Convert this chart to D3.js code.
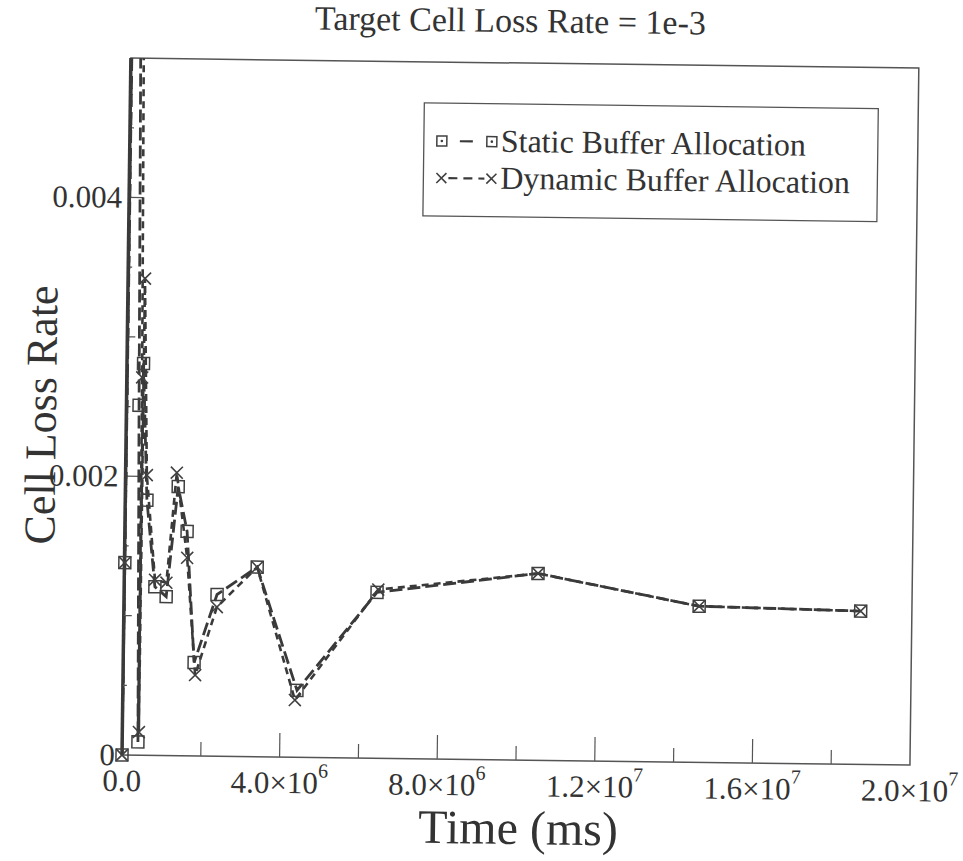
<!DOCTYPE html>
<html>
<head>
<meta charset="utf-8">
<script src="https://cdn.jsdelivr.net/npm/d3@7"></script>
<style>
  html, body { margin: 0; padding: 0; background: #fff; }
  svg { display: block; }
  text { font-family: "Liberation Serif", "Times New Roman", serif; fill: #333; }
</style>
</head>
<body>
<script>
// ************************************************************************************
// DATA  (time in ms, cell loss rate)
// ************************************************************************************
var staticTime  = [0, 0.01e6, 0.05e6, 0.32e6, 0.40e6, 0.42e6, 0.55e6, 0.78e6, 1.07e6, 1.34e6, 1.58e6, 1.80e6, 2.36e6, 3.37e6, 4.42e6, 6.42e6, 10.5e6, 14.6e6, 18.7e6]
var staticRate  = [0, 0.00138, 0.012, 0.00251, 0.000095, 0.00281, 0.00183, 0.00121, 0.00114, 0.00193, 0.00161, 0.00067, 0.00116, 0.00136, 0.00048, 0.00119, 0.00134, 0.00112, 0.00110]

var dynamicTime = [0, 0.01e6, 0.05e6, 0.39e6, 0.42e6, 0.43e6, 0.54e6, 0.78e6, 1.07e6, 1.30e6, 1.59e6, 1.83e6, 2.36e6, 3.37e6, 4.37e6, 6.45e6, 10.5e6, 14.6e6, 18.7e6]
var dynamicRate = [0, 0.00138, 0.015, 0.00271, 0.000166, 0.00342, 0.00201, 0.00126, 0.00124, 0.00203, 0.00142, 0.00058, 0.00107, 0.00136, 0.00041, 0.00121, 0.00134, 0.00112, 0.00110]

var seriesNames = ["Static Buffer Allocation", "Dynamic Buffer Allocation"]

var xTickValues = [0, 4e6, 8e6, 1.2e7, 1.6e7, 2e7]
var xTickLabels = [["0.0", ""], ["4.0×10", "6"], ["8.0×10", "6"], ["1.2×10", "7"], ["1.6×10", "7"], ["2.0×10", "7"]]
var yTickValues = [0, 0.002, 0.004]
var yTickLabels = ["0", "0.002", "0.004"]

// ************************************************************************************
// LAYOUT
// ************************************************************************************
var width = 963, height = 861
var plotL = 122, plotR = 910, plotB = 755, plotT = 58
var ink = "#3a3a3a"

var x = d3.scaleLinear().domain([0, 2e7]).range([plotL, plotR])
var y = d3.scaleLinear().domain([0, 0.005]).range([plotB, plotT])

var svg = d3.select("body").append("svg").attr("width", width).attr("height", height)

// the scan is tilted a little clockwise
var g = svg.append("g").attr("transform", "rotate(0.73," + plotL + "," + plotB + ")")

g.append("defs").append("clipPath").attr("id", "plotclip")
  .append("rect")
    .attr("x", plotL).attr("y", plotT)
    .attr("width", plotR - plotL).attr("height", plotB - plotT)

// ************************************************************************************
// FRAME & TICKS
// ************************************************************************************
g.append("rect")
  .attr("x", plotL).attr("y", plotT)
  .attr("width", plotR - plotL).attr("height", plotB - plotT)
  .attr("fill", "none").attr("stroke", "#555").attr("stroke-width", 1.5)

g.append("line")
  .attr("x1", plotL).attr("x2", plotL).attr("y1", plotT).attr("y2", plotB)
  .attr("stroke", ink).attr("stroke-width", 3.5)

g.selectAll(".xtick").data(d3.range(1, 10).map(function (i) { return i * 2e6 }))
  .enter().append("line")
    .attr("x1", function (d) { return x(d) }).attr("x2", function (d) { return x(d) })
    .attr("y1", plotB)
    .attr("y2", function (d, i) { return plotB - (i % 2 == 1 ? 24 : 14) })
    .attr("stroke", "#555").attr("stroke-width", 1.2)

g.selectAll(".ytick").data(d3.range(1, 10).map(function (i) { return i * 0.0005 }))
  .enter().append("line")
    .attr("y1", function (d) { return y(d) }).attr("y2", function (d) { return y(d) })
    .attr("x1", plotL)
    .attr("x2", function (d, i) { var k = i + 1; return plotL + (k % 4 == 0 ? 14 : (k % 2 == 0 ? 8 : 4)) })
    .attr("stroke", "#555").attr("stroke-width", 1.2)

g.selectAll(".ylab").data(yTickValues)
  .enter().append("text")
    .attr("x", plotL - 7).attr("y", function (d) { return y(d) })
    .attr("dy", "0.33em")
    .attr("text-anchor", "end")
    .attr("font-size", 31)
    .text(function (d, i) { return yTickLabels[i] })

var xl = g.selectAll(".xlab").data(xTickValues)
  .enter().append("text")
    .attr("x", function (d) { return x(d) }).attr("y", plotB + 36)
    .attr("text-anchor", "middle")
    .attr("font-size", 31)
xl.append("tspan").text(function (d, i) { return xTickLabels[i][0] })
xl.append("tspan").attr("font-size", 20).attr("dy", -16)
  .text(function (d, i) { return xTickLabels[i][1] })

// ************************************************************************************
// TITLES
// ************************************************************************************
g.append("text").attr("x", 501).attr("y", 27).attr("text-anchor", "middle")
  .attr("font-size", 34).text("Target Cell Loss Rate = 1e-3")

g.append("text").attr("x", 519).attr("y", 839).attr("text-anchor", "middle")
  .attr("font-size", 48).text("Time (ms)")

g.append("text").attr("transform", "translate(37,416) rotate(-90)")
  .attr("dy", "0.33em").attr("text-anchor", "middle")
  .attr("font-size", 44).text("Cell Loss Rate")

// ************************************************************************************
// SERIES
// ************************************************************************************
var staticData  = staticTime.map(function (t, i) { return [t, staticRate[i]] })
var dynamicData = dynamicTime.map(function (t, i) { return [t, dynamicRate[i]] })
var inside = function (d) { return d[1] <= y.domain()[1] }

var line = d3.line().x(function (d) { return x(d[0]) }).y(function (d) { return y(d[1]) })

var lines = g.append("g").attr("clip-path", "url(#plotclip)")
lines.append("path").datum(staticData).attr("d", line)
  .attr("fill", "none").attr("stroke", ink).attr("stroke-width", 2.8)
  .attr("stroke-dasharray", "13,5")
lines.append("path").datum(dynamicData).attr("d", line)
  .attr("fill", "none").attr("stroke", ink).attr("stroke-width", 2.6)
  .attr("stroke-dasharray", "7,5")

var square = function (sel, s) {
  sel.append("rect")
    .attr("x", -s / 2).attr("y", -s / 2).attr("width", s).attr("height", s)
    .attr("stroke", "#404040").attr("stroke-width", 1.5)
}
var cross = function (sel, s) {
  var h = s / 2
  sel.append("path").attr("d", "M" + (-h) + "," + (-h) + "L" + h + "," + h + "M" + (-h) + "," + h + "L" + h + "," + (-h))
    .attr("stroke", "#404040").attr("stroke-width", 1.6)
}

g.selectAll(".sq").data(staticData.filter(inside))
  .enter().append("g")
    .attr("transform", function (d) { return "translate(" + x(d[0]) + "," + y(d[1]) + ")" })
    .call(square, 12)
    .selectAll("rect").attr("fill", "none")

g.selectAll(".cx").data(dynamicData.filter(inside))
  .enter().append("g")
    .attr("transform", function (d) { return "translate(" + x(d[0]) + "," + y(d[1]) + ")" })
    .call(cross, 12)

// ************************************************************************************
// LEGEND
// ************************************************************************************
var lg = g.append("g")
lg.append("rect").attr("x", 416).attr("y", 99).attr("width", 454).attr("height", 113)
  .attr("fill", "#fff").attr("stroke", "#555").attr("stroke-width", 1.3)

var rows = [{ y: 137, dash: "13,5", mark: "sq", a: 452, b: 466 },
            { y: 174, dash: "9,6",  mark: "cx", a: 441, b: 477 }]
rows.forEach(function (r, i) {
  lg.append("line").attr("x1", r.a).attr("x2", r.b).attr("y1", r.y).attr("y2", r.y)
    .attr("stroke", ink).attr("stroke-width", 2.2).attr("stroke-dasharray", r.dash)
  ;[434, 484].forEach(function (cx) {
    var m = lg.append("g").attr("transform", "translate(" + cx + "," + r.y + ")")
    if (r.mark == "sq") {
      m.call(square, 10)
      m.select("rect").attr("fill", "#fff")
      m.append("circle").attr("r", 1.3).attr("fill", "#404040")
    } else {
      m.call(cross, 10)
    }
  })
  lg.append("text").attr("x", 493).attr("y", r.y + 10).attr("font-size", 32).text(seriesNames[i])
})
</script>
</body>
</html>
